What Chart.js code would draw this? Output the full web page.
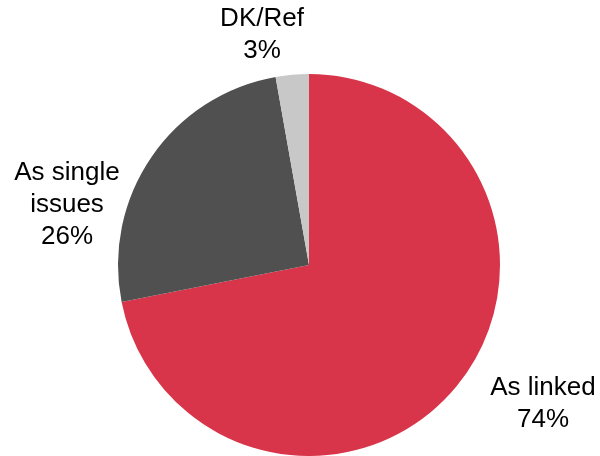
<!DOCTYPE html>
<html>
<head>
<meta charset="utf-8">
<script src="https://cdn.jsdelivr.net/npm/chart.js@4/dist/chart.umd.min.js"></script>
<style>
html,body{margin:0;padding:0;background:#fff;}
#wrap{width:600px;height:456px;position:relative;}
</style>
</head>
<body>
<div id="wrap"><canvas id="c" width="600" height="456"></canvas></div>
<script>
const categories = ["As linked", "As single issues", "DK/Ref"];
const values = [71.9, 25.3, 2.8];
const labelLines = [["As linked", "74%"], ["As single", "issues", "26%"], ["DK/Ref", "3%"]];
const colors = ["#D9354A", "#505050", "#C8C8C8"];
// label block centres relative to pie centre, in units of radius
const labelPos = [[1.225, 0.728], [-1.267, -0.314], [-0.246, -1.204]];

const labelPlugin = {
  id: 'pieLabels',
  afterDraw(chart) {
    const ctx = chart.ctx;
    const arcs = chart.getDatasetMeta(0).data;
    ctx.save();
    ctx.font = '26px "Liberation Sans", Arial, Helvetica, sans-serif';
    ctx.fillStyle = '#000';
    ctx.textAlign = 'center';
    ctx.textBaseline = 'middle';
    const lh = 32;
    arcs.forEach((arc, i) => {
      const cx = arc.x + labelPos[i][0] * arc.outerRadius;
      const cy = arc.y + labelPos[i][1] * arc.outerRadius;
      const lines = labelLines[i];
      const y0 = cy - (lines.length - 1) * lh / 2;
      lines.forEach((t, k) => ctx.fillText(t, cx, y0 + k * lh));
    });
    ctx.restore();
  }
};

new Chart(document.getElementById('c'), {
  type: 'pie',
  data: {
    labels: categories,
    datasets: [{
      data: values,
      backgroundColor: colors,
      borderWidth: 0
    }]
  },
  options: {
    responsive: false,
    animation: false,
    layout: { padding: { left: 118, right: 100, top: 74, bottom: 0 } },
    plugins: { legend: { display: false }, tooltip: { enabled: false } }
  },
  plugins: [labelPlugin]
});
</script>
</body>
</html>
